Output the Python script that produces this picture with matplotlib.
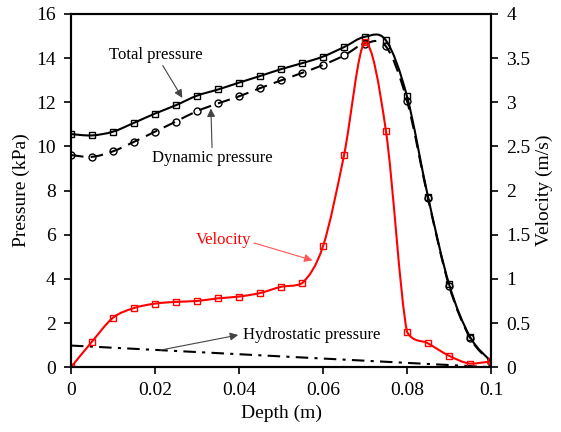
import numpy as np
import matplotlib
matplotlib.use('Agg')
import matplotlib.pyplot as plt
from matplotlib.path import Path
from matplotlib.patches import PathPatch

plt.rcParams['font.family'] = ['Liberation Serif', 'DejaVu Serif']
plt.rcParams['font.size'] = 14

# Data
depth = [0, 0.005, 0.01, 0.015, 0.02, 0.025, 0.03, 0.035, 0.04, 0.045, 0.05,
         0.055, 0.06, 0.065, 0.07, 0.075, 0.08, 0.085, 0.09, 0.095, 0.1]
total_p = [10.56, 10.50, 10.67, 11.07, 11.49, 11.87, 12.30, 12.58, 12.89, 13.19, 13.50,
           13.77, 14.07, 14.50, 14.97, 14.80, 12.27, 7.72, 3.77, 1.38, 0.26]
dynamic_p = [9.61, 9.53, 9.78, 10.21, 10.67, 11.13, 11.60, 11.95, 12.27, 12.64, 12.99,
             13.33, 13.69, 14.12, 14.66, 14.53, 12.07, 7.66, 3.70, 1.33, 0.22]
velocity = [0, 0.29, 0.56, 0.67, 0.72, 0.74, 0.75, 0.78, 0.80, 0.84, 0.91,
            0.95, 1.37, 2.40, 3.68, 2.67, 0.40, 0.27, 0.13, 0.04, 0.065]
hydro_depth = [0, 0.1]
hydro_p = [0.98, 0.0]

x_ticks = [0, 0.02, 0.04, 0.06, 0.08, 0.1]
x_labels = ['0', '0.02', '0.04', '0.06', '0.08', '0.1']
p_ticks = [0, 2, 4, 6, 8, 10, 12, 14, 16]
v_ticks = [0, 0.5, 1, 1.5, 2, 2.5, 3, 3.5, 4]
v_labels = ['0', '0.5', '1', '1.5', '2', '2.5', '3', '3.5', '4']


def smooth(x, y, clamp=False):
    # smoothed line like the spreadsheet's "smoothed line" option
    pts = np.column_stack([x, y])
    n = len(pts)
    verts = [pts[0]]
    codes = [Path.MOVETO]
    for i in range(n - 1):
        p0 = pts[max(i - 1, 0)]
        p1 = pts[i]
        p2 = pts[i + 1]
        p3 = pts[min(i + 2, n - 1)]
        c1 = p1 + (p2 - p0) / 6
        c2 = p2 - (p3 - p1) / 6
        if clamp:
            lo, hi = min(p1[1], p2[1]), max(p1[1], p2[1])
            c1[1] = np.clip(c1[1], lo, hi)
            c2[1] = np.clip(c2[1], lo, hi)
        verts += [c1, c2, p2]
        codes += [Path.CURVE4] * 3
    return Path(verts, codes)


fig = plt.figure(figsize=(5.61, 4.32), dpi=100)
ax = fig.add_axes([0.1266, 0.150, 0.7486, 0.8176])
ax2 = ax.twinx()

ax.add_patch(PathPatch(smooth(depth, total_p), fill=False, color='black', lw=1.5))
ax.plot(depth, total_p, ls='none', marker='s', ms=5, mfc='none', mec='black', mew=1)

ax.add_patch(PathPatch(smooth(depth, dynamic_p), fill=False, color='black', lw=1.5,
                       ls=(0, (6, 3.5))))
ax.plot(depth, dynamic_p, ls='none', marker='o', ms=5, mfc='none', mec='black', mew=1)

ax.plot(hydro_depth, hydro_p, color='black', lw=1.5, ls=(0, (6, 3, 1.5, 3)))

ax2.add_patch(PathPatch(smooth(depth, velocity, clamp=True), fill=False, color='red', lw=1.5))
ax2.plot(depth, velocity, ls='none', marker='s', ms=5, mfc='none', mec='red', mew=1)

ax.set_xlim(0, 0.1)
ax.set_ylim(0, 16)
ax2.set_ylim(0, 4)
ax.set_xticks(x_ticks)
ax.set_xticklabels(x_labels)
ax.set_yticks(p_ticks)
ax2.set_yticks(v_ticks)
ax2.set_yticklabels(v_labels)

for a in (ax, ax2):
    a.tick_params(direction='out', length=5, width=1.2, pad=6)
    for s in a.spines.values():
        s.set_linewidth(1.5)

ax.set_xlabel('Depth (m)')
ax.set_ylabel('Pressure (kPa)')
ax2.set_ylabel('Velocity (m/s)')

arr = dict(arrowstyle='-|>', lw=0.8, mutation_scale=12, shrinkA=0, shrinkB=0)
ax.annotate('Total pressure', xy=(0.0265, 12.2), xytext=(0.0203, 14.15),
            ha='center', va='center', fontsize=12,
            arrowprops=dict(arr, color='#444444'))
ax.annotate('Dynamic pressure', xy=(0.0333, 11.72), xytext=(0.0336, 9.46),
            ha='center', va='center', fontsize=12,
            arrowprops=dict(arr, color='#444444', relpos=(0.5, 1.0)))
ax.annotate('Velocity', xy=(0.0575, 4.84), xytext=(0.0363, 5.74),
            ha='center', va='center', fontsize=12, color='red',
            arrowprops=dict(arr, color='#ff5555', relpos=(1.0, 0.4)))
ax.text(0.041, 1.46, 'Hydrostatic pressure', ha='left', va='center', fontsize=12)
ax.annotate('', xy=(0.0398, 1.46), xytext=(0.0212, 0.77),
            arrowprops=dict(arr, color='#444444'))

fig.savefig('out.png', dpi=100)
